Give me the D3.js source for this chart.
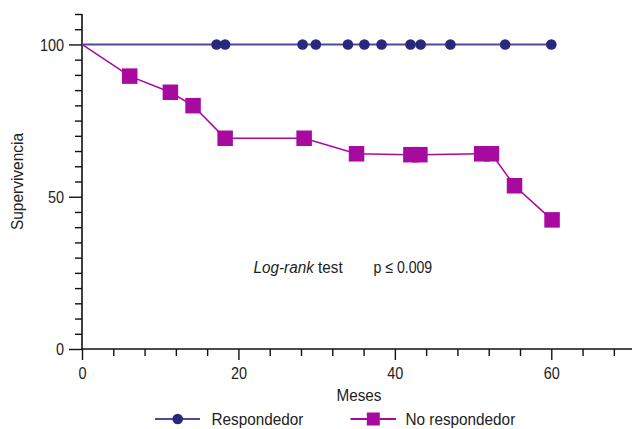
<!DOCTYPE html>
<html>
<head>
<meta charset="utf-8">
<script src="https://cdn.jsdelivr.net/npm/d3@7"></script>
<style>
  html, body { margin: 0; padding: 0; background: #fff; }
  svg { display: block; font-family: "Liberation Sans", Arial, Helvetica, sans-serif; }
</style>
</head>
<body>
<script>
// ---- Data ----
const respLineTimes = [0, 60];
const respLineSurv = [100, 100];
const respCensorTimes = [17.2, 18.3, 28.2, 29.9, 34, 36.1, 38.3, 42, 43.3, 47.1, 54.1, 60];
const respCensorSurv = [100, 100, 100, 100, 100, 100, 100, 100, 100, 100, 100, 100];

const nonRespTimes = [0, 6.1, 11.3, 14.2, 18.3, 28.4, 35.1, 42.05, 43.2, 51.1, 52.35, 55.3, 60.1];
const nonRespSurv = [100, 89.6, 84.3, 79.9, 69.2, 69.2, 64.1, 63.8, 63.8, 64.1, 64.1, 53.6, 42.4];

const xTicks = [0, 4, 8, 12, 16, 20, 24, 28, 32, 36, 40, 44, 48, 52, 56, 60, 64, 68];
const xLabels = [0, 20, 40, 60];
const yTicks = [0, 5, 10, 15, 20, 25, 30, 35, 40, 45, 50, 55, 60, 65, 70, 75, 80, 85, 90, 95, 100, 105, 110];
const yLabels = [0, 50, 100];

const seriesNames = ["Respondedor", "No respondedor"];
const xTitle = "Meses";
const yTitle = "Supervivencia";
const annItalic = "Log-rank";
const annPlain = " test";
const annP = "p \u2264 0.009";

// ---- Layout ----
const W = 632, H = 429;
const navy = "#29287f", navyLine = "#4b4b9c";
const magenta = "#a80aa0";
const textCol = "#222";
const FS = "17px";

const svg = d3.select("body").append("svg").attr("width", W).attr("height", H);

function condense(sel, factor) {
  sel.each(function () {
    const L = this.getComputedTextLength();
    if (L > 0) d3.select(this).attr("textLength", L * factor).attr("lengthAdjust", "spacingAndGlyphs");
  });
}

const x = d3.scaleLinear().domain([0, 70]).range([82, 629.5]);
const y = d3.scaleLinear().domain([0, 110]).range([349, 14]);

// Y axis
const yAxis = d3.axisLeft(y).tickValues(yTicks)
  .tickSize(7)
  .tickFormat(d => yLabels.includes(d) ? d : "");
const gy = svg.append("g").attr("transform", `translate(${x(0)},0)`).call(yAxis);
gy.select(".domain").attr("stroke", "#111").attr("stroke-width", 1.6).attr("d", `M0,${y(110)}V${y(0)}`);
gy.selectAll(".tick line").attr("stroke", "#111").attr("stroke-width", 1.4)
  .attr("x2", d => yLabels.includes(d) ? -13 : -7);
gy.selectAll(".tick text").attr("x", -18).attr("dy", "0.35em")
  .attr("fill", textCol).style("font-size", FS).style("font-family", "'Liberation Sans', Arial, sans-serif");
condense(gy.selectAll(".tick text"), 0.85);

// X axis
const xAxis = d3.axisBottom(x).tickValues(xTicks)
  .tickSize(7)
  .tickFormat(d => xLabels.includes(d) ? d : "");
const gx = svg.append("g").attr("transform", `translate(0,${y(0)})`).call(xAxis);
gx.select(".domain").attr("stroke", "#111").attr("stroke-width", 1.6).attr("d", `M${x(0)},0H${W}`);
gx.selectAll(".tick line").attr("stroke", "#111").attr("stroke-width", 1.4)
  .attr("y2", d => xLabels.includes(d) ? 11 : 7);
gx.selectAll(".tick text").attr("y", 30).attr("dy", null)
  .attr("fill", textCol).style("font-size", FS).style("font-family", "'Liberation Sans', Arial, sans-serif");
condense(gx.selectAll(".tick text"), 0.85);

// Axis titles
condense(svg.append("text").attr("x", 359).attr("y", 400.5).attr("text-anchor", "middle")
  .attr("fill", textCol).style("font-size", FS).text(xTitle), 0.9);
condense(svg.append("text").attr("transform", `translate(23,${(y(0) + y(110)) / 2}) rotate(-90)`)
  .attr("text-anchor", "middle").attr("fill", textCol).style("font-size", FS).text(yTitle), 0.91);

// Lines
const line = d3.line().x(d => x(d[0])).y(d => y(d[1]));
const respLine = respLineTimes.map((t, i) => [t, respLineSurv[i]]);
const nonResp = nonRespTimes.map((t, i) => [t, nonRespSurv[i]]);

svg.append("path").datum(nonResp).attr("d", line).attr("fill", "none")
  .attr("stroke", magenta).attr("stroke-width", 1.6);
svg.append("path").datum(respLine).attr("d", line).attr("fill", "none")
  .attr("stroke", navyLine).attr("stroke-width", 2);

// Markers
const sq = 15.5;
svg.append("g").selectAll("rect").data(nonResp.slice(1)).join("rect")
  .attr("x", d => x(d[0]) - sq / 2).attr("y", d => y(d[1]) - sq / 2)
  .attr("width", sq).attr("height", sq).attr("fill", magenta);

svg.append("g").selectAll("circle").data(respCensorTimes.map((t, i) => [t, respCensorSurv[i]])).join("circle")
  .attr("cx", d => x(d[0])).attr("cy", d => y(d[1])).attr("r", 5.3).attr("fill", navy);

// Annotation (condensed with a horizontal scale)
const ann = svg.append("text").attr("transform", "translate(253.5,272.5) scale(0.9,1)")
  .attr("fill", textCol).style("font-size", FS);
ann.append("tspan").style("font-style", "italic").text(annItalic);
ann.append("tspan").text(annPlain);
svg.append("text").attr("transform", "translate(373.5,272.5) scale(0.83,1)")
  .attr("fill", textCol).style("font-size", FS).text(annP);

// Legend
const lg = svg.append("g");
lg.append("line").attr("x1", 155).attr("x2", 200).attr("y1", 419).attr("y2", 419)
  .attr("stroke", navyLine).attr("stroke-width", 2);
lg.append("circle").attr("cx", 177.7).attr("cy", 419).attr("r", 5.3).attr("fill", navy);
condense(lg.append("text").attr("x", 211.5).attr("y", 425).attr("fill", textCol).style("font-size", FS).text(seriesNames[0]), 0.9);

lg.append("line").attr("x1", 350.5).attr("x2", 396).attr("y1", 419).attr("y2", 419)
  .attr("stroke", magenta).attr("stroke-width", 2);
lg.append("rect").attr("x", 373.3 - 6.5).attr("y", 419 - 6.5).attr("width", 13).attr("height", 13).attr("fill", magenta);
condense(lg.append("text").attr("x", 405.5).attr("y", 425).attr("fill", textCol).style("font-size", FS).text(seriesNames[1]), 0.9);
</script>
</body>
</html>
